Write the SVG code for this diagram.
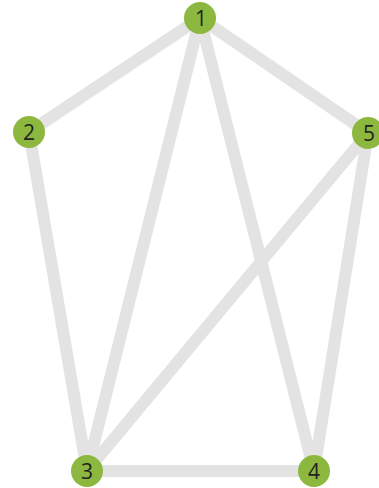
<svg xmlns="http://www.w3.org/2000/svg" width="379" height="488" viewBox="0 0 379 488">
<style>
.e{stroke:#e3e3e3;stroke-width:12;stroke-linecap:butt;fill:none}
.n circle{fill:#8db83f}
.n text{font-family:"Open Sans","Liberation Sans",sans-serif;font-size:21px;fill:#222;text-anchor:middle;dominant-baseline:central}
</style>
<rect width="379" height="488" fill="#fff"/>
<g id="edges">
<line class="e" x1="200" y1="18" x2="29" y2="132"/>
<line class="e" x1="200" y1="18" x2="368" y2="133"/>
<line class="e" x1="200" y1="18" x2="87" y2="471"/>
<line class="e" x1="200" y1="18" x2="314" y2="471"/>
<line class="e" x1="29" y1="132" x2="87" y2="471"/>
<line class="e" x1="368" y1="133" x2="87" y2="471"/>
<line class="e" x1="368" y1="133" x2="314" y2="471"/>
<line class="e" x1="87" y1="471" x2="314" y2="471"/>
</g>
<g id="n1" class="n"><circle cx="200" cy="18" r="16"/><text x="201" y="18">1</text></g>
<g id="n2" class="n"><circle cx="29" cy="132" r="16"/><text x="29" y="132">2</text></g>
<g id="n5" class="n"><circle cx="368" cy="133" r="16"/><text x="369" y="133">5</text></g>
<g id="n3" class="n"><circle cx="87" cy="471" r="16"/><text x="87" y="471">3</text></g>
<g id="n4" class="n"><circle cx="314" cy="471" r="16"/><text x="314" y="471">4</text></g>
</svg>
